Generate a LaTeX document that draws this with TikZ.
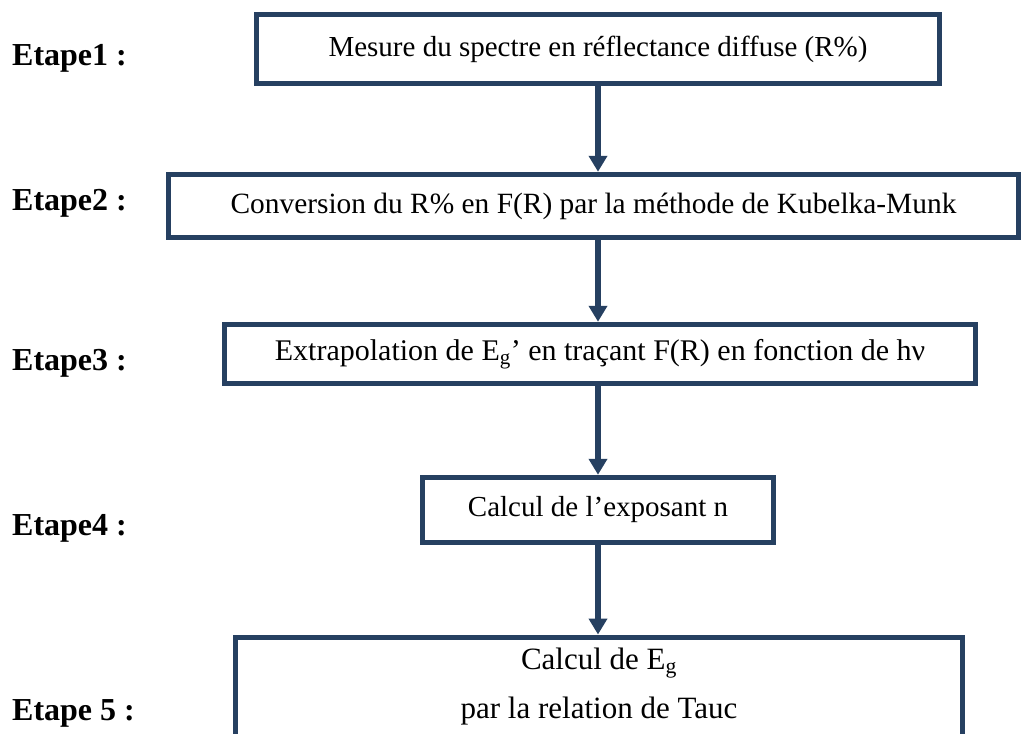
\documentclass[tikz,border=0pt]{standalone}
\usepackage{fontspec}
\setmainfont{Liberation Serif}
\usetikzlibrary{arrows.meta,calc}
\definecolor{boxblue}{RGB}{38,64,97}
\begin{document}
\begin{tikzpicture}[x=1pt,y=-1pt,
  stepbox/.style={draw=boxblue, line width=5.5pt, fill=white, inner sep=0pt,
    align=center, font=\fontsize{29}{48}\selectfont},
  boxtext/.style={align=center, inner sep=0pt, font=\fontsize{31}{49}\selectfont},
  flow/.style={draw=boxblue, line width=6pt,
    -{Triangle[length=16pt,width=18pt]}},
  etape/.style={anchor=base west, inner sep=0pt,
    font=\fontsize{32}{36}\selectfont\bfseries}]
\clip (0,0) rectangle (1021,734);
\fill[white] (0,0) rectangle (1021,734);

% step boxes
\node[stepbox, minimum width=683pt, minimum height=69pt] (s1) at (598,49)
  {Mesure du spectre en réflectance diffuse (R\%)};
\node[stepbox, minimum width=850pt, minimum height=63pt,
  font=\fontsize{29.4}{48}\selectfont] (s2) at (593.5,206)
  {Conversion du R\% en F(R) par la méthode de Kubelka-Munk};
\node[stepbox, minimum width=751pt, minimum height=59pt,
  font=\fontsize{30}{48}\selectfont] (s3) at (600,354)
  {Extrapolation de E\textsubscript{g}’ en traçant F(R) en fonction de hν};
\node[stepbox, minimum width=351pt, minimum height=65pt] (s4) at (598,510)
  {Calcul de l’exposant n};
\node[stepbox, minimum width=727pt, minimum height=150pt, anchor=north] (s5)
  at (599,634.5) {};
\node[boxtext] (s5t) at ($(s5.north)+(0,52)$)
  {Calcul de E\textsubscript{g}\\par la relation de Tauc};

% connectors
\draw[flow] (s1.south) -- (s1.south |- s2.north);
\draw[flow] (s2.south -| s1.south) -- (s1.south |- s3.north);
\draw[flow] (s3.south -| s1.south) -- (s1.south |- s4.north);
\draw[flow] (s4.south -| s1.south) -- (s1.south |- s5.north);

% step labels
\node[etape] (e1) at (12,65) {Etape1 :};
\node[etape] (e2) at (12,210) {Etape2 :};
\node[etape] (e3) at (12,370) {Etape3 :};
\node[etape] (e4) at (12,535) {Etape4 :};
\node[etape] (e5) at (12,720) {Etape 5 :};
\end{tikzpicture}
\end{document}
